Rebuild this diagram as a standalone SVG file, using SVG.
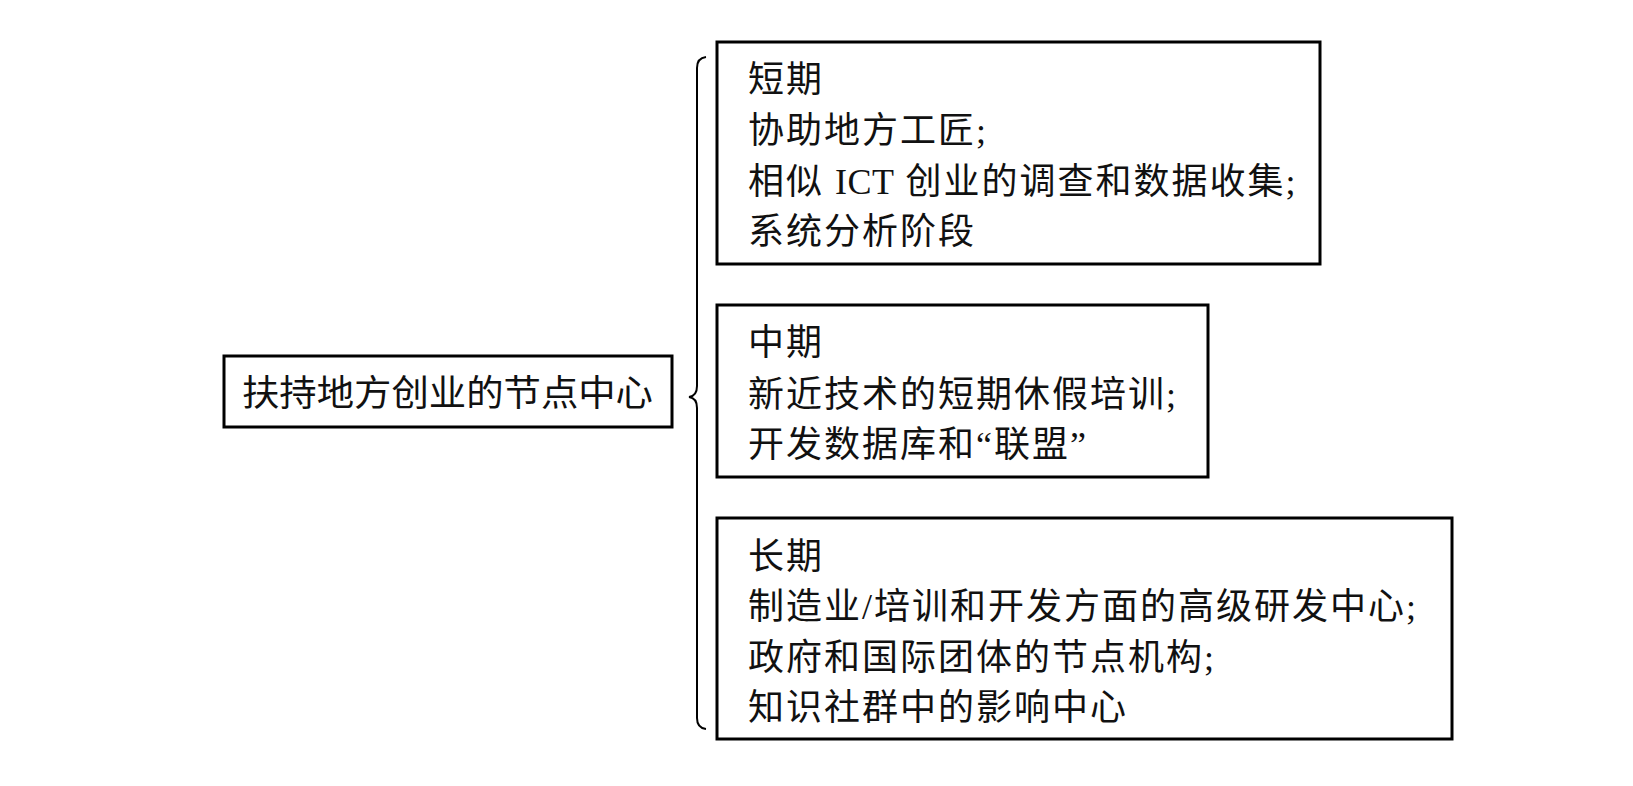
<svg xmlns="http://www.w3.org/2000/svg" width="1633" height="786" viewBox="0 0 1633 786">
<style>
.box{fill:#fff;stroke:#000;stroke-width:3}
.t{font-family:"Liberation Serif","Noto Sans CJK SC",serif;font-size:36px;fill:#111;letter-spacing:2px}
.m{font-family:"Liberation Serif","Noto Sans CJK SC",serif;font-size:36px;fill:#111}
.br{fill:none;stroke:#000;stroke-width:2}
</style>
<rect width="1633" height="786" fill="#fff"/>
<g id="root">
<rect class="box" x="224" y="356" width="448" height="71"/>
<text class="m" x="242" y="406" textLength="411" lengthAdjust="spacingAndGlyphs">扶持地方创业的节点中心</text>
</g>
<g id="connectors">
<path class="br" d="M706,57 Q697,58 697,68 L697,386 Q697,396 689,397 Q697,398 697,408 L697,718 Q697,728 706,729"/>
</g>
<g id="short">
<rect class="box" x="717" y="42" width="603" height="222"/>
<text class="t" x="748" y="92">短期</text>
<text class="t" x="748" y="143">协助地方工匠;</text>
<text class="t" x="748" y="194">相似 <tspan style="letter-spacing:0.5px">ICT</tspan> 创业的调查和数据收集;</text>
<text class="t" x="748" y="244">系统分析阶段</text>
</g>
<g id="mid">
<rect class="box" x="717" y="305" width="491" height="172"/>
<text class="t" x="748" y="355">中期</text>
<text class="t" x="748" y="407">新近技术的短期休假培训;</text>
<text class="t" x="748" y="457">开发数据库和“联盟”</text>
</g>
<g id="long">
<rect class="box" x="717" y="518" width="735" height="221"/>
<text class="t" x="748" y="569">长期</text>
<text class="t" x="748" y="619">制造业/培训和开发方面的高级研发中心;</text>
<text class="t" x="748" y="670">政府和国际团体的节点机构;</text>
<text class="t" x="748" y="720">知识社群中的影响中心</text>
</g>
</svg>
